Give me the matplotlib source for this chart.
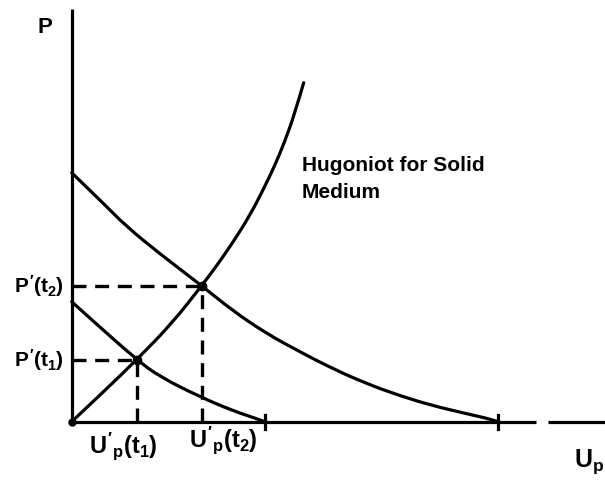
import matplotlib
matplotlib.use("Agg")
import matplotlib.pyplot as plt
from matplotlib.path import Path
from matplotlib.patches import PathPatch

plt.rcParams["font.family"] = ["Liberation Sans", "DejaVu Sans"]
plt.rcParams["mathtext.fontset"] = "custom"
plt.rcParams["mathtext.rm"] = "Liberation Sans:bold"
plt.rcParams["mathtext.it"] = "Liberation Sans:bold"
plt.rcParams["mathtext.bf"] = "Liberation Sans:bold"

# Hugoniot of the solid medium (particle velocity U_p, pressure P)
hug_u = [0.00, 0.33, 0.65, 1.00, 1.30, 1.45, 1.61, 1.78, 1.92, 2.03, 2.13, 2.23, 2.32]
hug_p = [0.00, 0.31, 0.62, 0.98, 1.36, 1.56, 1.79, 2.06, 2.33, 2.56, 2.80, 3.08, 3.39]

# release isentrope at the later time t2
rel2_u = [0.00, 0.32, 0.55, 0.88, 1.30, 1.61, 1.95, 2.28, 2.61, 2.95, 3.28, 3.61, 3.95, 4.21, 4.26]
rel2_p = [2.49, 2.18, 1.95, 1.68, 1.36, 1.11, 0.88, 0.70, 0.53, 0.38, 0.26, 0.16, 0.08, 0.02, 0.00]

# release isentrope at the earlier time t1
rel1_u = [0.00, 0.21, 0.65, 0.88, 1.28, 1.61, 1.88, 1.93]
rel1_p = [1.20, 1.01, 0.62, 0.45, 0.25, 0.11, 0.02, 0.00]

# intersection states (U_p', P') at t1 and t2
state_u = [0.65, 1.30]
state_p = [0.62, 1.36]
state_labels_p = [r"$P'(t_1)$", r"$P'(t_2)$"]
state_labels_u = [r"$U'_p(t_1)$", r"$U'_p(t_2)$"]


def smooth_curve(us, ps):
    """Quadratic-Bezier path that uses the sampled points as control points."""
    pts = list(zip(us, ps))
    verts = [pts[0]]
    codes = [Path.MOVETO]
    for i in range(1, len(pts) - 1):
        mid = ((pts[i][0] + pts[i + 1][0]) / 2, (pts[i][1] + pts[i + 1][1]) / 2)
        if i == len(pts) - 2:
            mid = pts[-1]
        verts += [pts[i], mid]
        codes += [Path.CURVE3, Path.CURVE3]
    return Path(verts, codes)


fig = plt.figure(figsize=(6.05, 4.80), dpi=100)
ax = fig.add_axes([0, 0, 1, 1])
ax.set_xlim(-0.717, 5.333)
ax.set_ylim(-0.583, 4.217)
ax.axis("off")

lw = 2.3
ink = "black"

# axes drawn as plain strokes
ax.plot([0, 0], [0, 4.13], color=ink, lw=lw, solid_capstyle="butt")
ax.plot([0, 4.64], [0, 0], color=ink, lw=lw, solid_capstyle="butt")
ax.plot([4.76, 5.34], [0, 0], color=ink, lw=lw, solid_capstyle="butt")

# curves
for us, ps in ((hug_u, hug_p), (rel2_u, rel2_p), (rel1_u, rel1_p)):
    ax.add_patch(PathPatch(smooth_curve(us, ps), fill=False, edgecolor=ink,
                           lw=lw, capstyle="round", joinstyle="round"))

# short ticks where each release curve reaches zero pressure
for u_end in (rel1_u[-1], rel2_u[-1]):
    ax.plot([u_end, u_end], [-0.07, 0.07], color=ink, lw=lw)

# dashed projections of the two states onto the axes
for u, p in zip(state_u, state_p):
    ax.plot([0, u], [p, p], color=ink, lw=2.4, dashes=(4.2, 2.6))
    ax.plot([u, u], [0, p], color=ink, lw=2.4, dashes=(4.2, 2.6))

ax.plot(state_u, state_p, "o", color=ink, ms=6)
ax.plot([0], [0], "o", color=ink, ms=5)

fs = 15
for p, lab in zip(state_p, state_labels_p):
    ax.text(-0.08, p, lab, ha="right", va="center", fontsize=fs)
ax.text(state_u[0] - 0.13, -0.24, state_labels_u[0], ha="center", va="center", fontsize=fs + 2)
ax.text(state_u[1] + 0.22, -0.19, state_labels_u[1], ha="center", va="center", fontsize=fs + 2)

ax.text(-0.27, 3.94, "P", ha="center", va="center", fontsize=fs + 1, fontweight="bold")
ax.text(5.17, -0.40, r"$U_p$", ha="center", va="center", fontsize=fs + 3)

ax.text(2.30, 2.56, "Hugoniot for Solid", ha="left", va="center", fontsize=fs, fontweight="bold")
ax.text(2.30, 2.29, "Medium", ha="left", va="center", fontsize=fs, fontweight="bold")

fig.savefig("out.png", dpi=100, facecolor="white")
